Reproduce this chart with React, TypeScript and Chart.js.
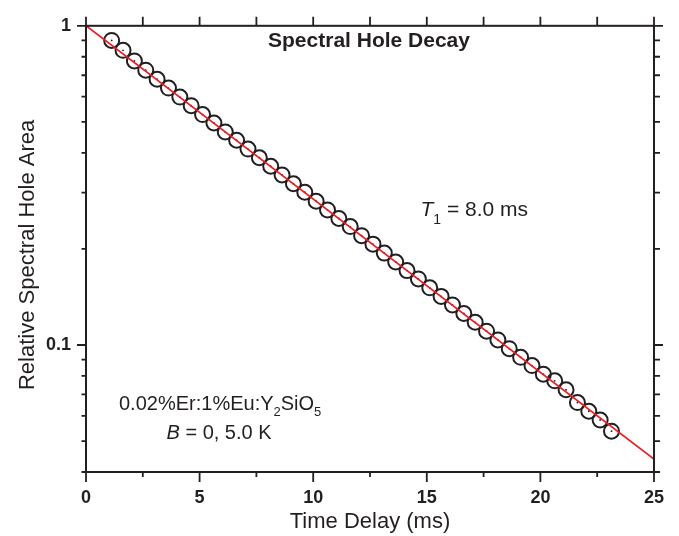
import React, { useEffect, useRef } from "react";
import { Chart, registerables } from "chart.js";

Chart.register(...registerables);

const FONT = "'Liberation Sans', Arial, Helvetica, sans-serif";
const INK = "#231f20";

const timeDelay = [
  1.13, 1.63, 2.13, 2.63, 3.13, 3.63, 4.13, 4.63, 5.13, 5.63, 6.13, 6.63, 7.13, 7.63, 8.13,
  8.63, 9.13, 9.63, 10.13, 10.63, 11.13, 11.63, 12.13, 12.63, 13.13, 13.63, 14.13, 14.63,
  15.13, 15.63, 16.13, 16.63, 17.13, 17.63, 18.13, 18.63, 19.13, 19.63, 20.13, 20.63, 21.13,
  21.63, 22.13, 22.63, 23.13,
];
const holeArea = [
  0.9, 0.838, 0.776, 0.726, 0.68, 0.638, 0.598, 0.562, 0.527, 0.496, 0.465, 0.438, 0.411,
  0.386, 0.363, 0.341, 0.32, 0.301, 0.282, 0.265, 0.249, 0.235, 0.22, 0.207, 0.194, 0.182,
  0.171, 0.161, 0.151, 0.142, 0.1335, 0.1255, 0.1178, 0.1105, 0.1037, 0.0974, 0.0915, 0.0862,
  0.081, 0.0772, 0.0724, 0.066, 0.062, 0.0582, 0.0537,
];
const fitTime = [0, 25];
const fitArea = [1, 0.0439];

const xMajorTicks = [0, 5, 10, 15, 20, 25];
const xMinorTicks = [2.5, 7.5, 12.5, 17.5, 22.5];
const yMajorTicks = [0.1, 1];
const yMinorTicks = [0.04, 0.05, 0.06, 0.07, 0.08, 0.09, 0.2, 0.3, 0.4, 0.5, 0.6, 0.7, 0.8, 0.9];

const xTitle = "Time Delay (ms)";
const yTitle = "Relative Spectral Hole Area";
const chartTitle = "Spectral Hole Decay";

type Part = { t: string; italic?: boolean; bold?: boolean; sub?: boolean };

function drawRich(ctx: CanvasRenderingContext2D, x: number, y: number, parts: Part[], size: number, subSize: number, subDrop: number) {
  let cx = x;
  for (const p of parts) {
    const fs = p.sub ? subSize : size;
    ctx.font = `${p.italic ? "italic " : ""}${p.bold ? "bold " : ""}${fs}px ${FONT}`;
    ctx.fillText(p.t, cx, p.sub ? y + subDrop : y);
    cx += ctx.measureText(p.t).width;
  }
}

const framePlugin = {
  id: "frameTicks",
  afterDatasetsDraw(chart: any) {
    const { ctx, chartArea } = chart;
    const { left, right, top, bottom } = chartArea;
    const xs = chart.scales.x;
    const ys = chart.scales.y;
    ctx.save();
    ctx.strokeStyle = INK;
    ctx.lineWidth = 1.8;
    ctx.beginPath();
    for (const v of xMajorTicks) {
      const px = xs.getPixelForValue(v);
      ctx.moveTo(px, bottom);
      ctx.lineTo(px, bottom + 10);
    }
    for (const v of xMinorTicks) {
      const px = xs.getPixelForValue(v);
      ctx.moveTo(px, bottom);
      ctx.lineTo(px, bottom + 5);
    }
    for (const v of [...xMajorTicks, ...xMinorTicks]) {
      const px = xs.getPixelForValue(v);
      ctx.moveTo(px, top);
      ctx.lineTo(px, top - 9);
    }
    for (const v of yMajorTicks) {
      const py = ys.getPixelForValue(v);
      ctx.moveTo(left, py);
      ctx.lineTo(left - 9, py);
      ctx.moveTo(right, py);
      ctx.lineTo(right + 9, py);
    }
    for (const v of yMinorTicks) {
      const py = ys.getPixelForValue(v);
      ctx.moveTo(left, py);
      ctx.lineTo(left - 4.5, py);
      ctx.moveTo(right, py);
      ctx.lineTo(right + 6, py);
    }
    ctx.stroke();
    ctx.lineWidth = 2;
    ctx.strokeRect(left, top, right - left, bottom - top);
    ctx.restore();
  },
  afterDraw(chart: any) {
    const { ctx, chartArea } = chart;
    ctx.save();
    ctx.fillStyle = INK;
    ctx.save();
    ctx.translate(28, (chartArea.top + chartArea.bottom) / 2 + 6);
    ctx.rotate(-Math.PI / 2);
    ctx.textAlign = "center";
    ctx.textBaseline = "middle";
    ctx.font = `22px ${FONT}`;
    ctx.fillText(yTitle, 0, 0);
    ctx.restore();

    ctx.textBaseline = "alphabetic";
    ctx.textAlign = "center";
    ctx.font = `bold 21px ${FONT}`;
    ctx.fillText(chartTitle, 369, 46.5);
    ctx.textAlign = "left";
    drawRich(ctx, 420.5, 216, [
      { t: "T", italic: true },
      { t: "1", sub: true },
      { t: " = 8.0 ms" },
    ], 21, 14, 7.5);
    drawRich(ctx, 119, 410, [
      { t: "0.02%Er:1%Eu:Y" },
      { t: "2", sub: true },
      { t: "SiO" },
      { t: "5", sub: true },
    ], 20, 13, 6);
    drawRich(ctx, 166.5, 439, [
      { t: "B", italic: true },
      { t: " = 0, 5.0 K" },
    ], 20, 13, 6);
    ctx.restore();
  },
};

export default function App() {
  const ref = useRef<HTMLCanvasElement | null>(null);
  useEffect(() => {
    document.body.style.margin = "0";
    const canvas = ref.current;
    if (!canvas) return;
    const circles = timeDelay.map((x, i) => ({ x, y: holeArea[i] }));
    const chart = new Chart(canvas, {
      type: "scatter",
      data: {
        datasets: [
          {
            label: "fit",
            data: fitTime.map((x, i) => ({ x, y: fitArea[i] })),
            showLine: true,
            borderColor: "#ed1c24",
            borderWidth: 1.7,
            pointRadius: 0,
          },
          {
            label: "centers",
            data: circles,
            pointRadius: 0.9,
            pointBorderWidth: 0,
            pointBackgroundColor: INK,
          },
          {
            label: "data",
            data: circles,
            pointRadius: 7.5,
            pointBorderWidth: 2,
            pointBorderColor: INK,
            pointBackgroundColor: "rgba(0,0,0,0)",
          },
        ] as any,
      },
      options: {
        responsive: false,
        animation: false,
        events: [],
        layout: { padding: { top: 14, right: 25, left: 0, bottom: 0 } },
        plugins: { legend: { display: false }, tooltip: { enabled: false } },
        scales: {
          x: {
            type: "linear",
            position: "bottom",
            min: 0,
            max: 25,
            afterBuildTicks: (s: any) => {
              s.ticks = xMajorTicks.map((v) => ({ value: v }));
            },
            afterFit: (s: any) => {
              s.height = 64;
            },
            ticks: {
              font: { family: FONT, size: 18, weight: "bold" },
              color: INK,
              padding: 15,
              maxRotation: 0,
              autoSkip: false,
              callback: (v: any) => String(v),
            },
            grid: { display: false, drawTicks: false },
            border: { display: false },
            title: {
              display: true,
              text: xTitle,
              font: { family: FONT, size: 22 },
              color: INK,
              padding: { top: 0, bottom: 1 },
            },
          },
          y: {
            type: "logarithmic",
            position: "left",
            min: 0.04,
            max: 1,
            afterBuildTicks: (s: any) => {
              s.ticks = yMajorTicks.map((v) => ({ value: v, major: true }));
            },
            afterFit: (s: any) => {
              s.width = 86;
            },
            ticks: {
              font: { family: FONT, size: 18, weight: "bold" },
              color: INK,
              padding: 15,
              autoSkip: false,
              callback: (v: any) => String(v),
            },
            grid: { display: false, drawTicks: false },
            border: { display: false },
            title: { display: false, text: yTitle },
          },
        },
      } as any,
      plugins: [framePlugin],
    });
    return () => chart.destroy();
  }, []);
  return (
    <div style={{ width: 679, height: 536 }}>
      <canvas ref={ref} width={679} height={536} style={{ display: "block" }} />
    </div>
  );
}
